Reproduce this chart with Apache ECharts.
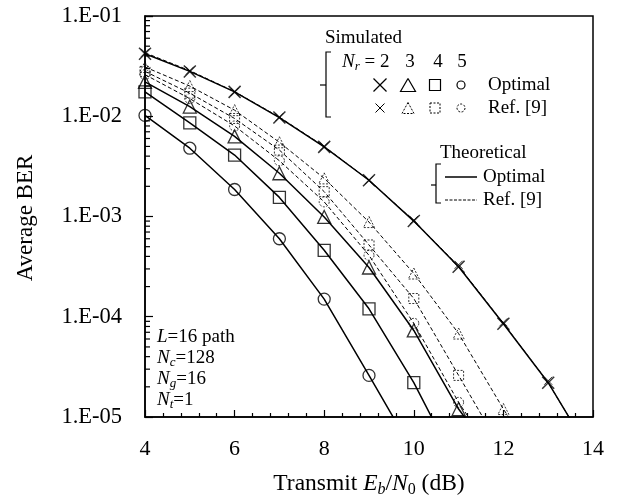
<!DOCTYPE html>
<html>
<head>
<meta charset="utf-8">
<script src="https://cdn.jsdelivr.net/npm/echarts@6/dist/echarts.min.js"></script>
<style>html,body{margin:0;padding:0;background:#fff;}#c{width:619px;height:499px;}</style>
</head>
<body>
<div id="c"></div>
<script>
// ---- data ----
const snr = [4, 5, 6, 7, 8, 9, 10, 11, 12, 13, 14];
const yTickLabels = ['1.E-05', '1.E-04', '1.E-03', '1.E-02', '1.E-01'];
// simulated, optimal
const simOptNr2 = [4.2e-2, 2.8e-2, 1.75e-2, 9.7e-3, 4.95e-3, 2.3e-3, 9.0e-4, 3.15e-4, 8.5e-5, 2.2e-5];
const simOptNr3 = [2.2e-2, 1.25e-2, 6.3e-3, 2.7e-3, 9.9e-4, 3.1e-4, 7.3e-5, 1.2e-5];
const simOptNr4 = [1.75e-2, 8.6e-3, 4.1e-3, 1.55e-3, 4.6e-4, 1.2e-4, 2.2e-5];
const simOptNr5 = [1.02e-2, 4.8e-3, 1.86e-3, 6.0e-4, 1.5e-4, 2.6e-5];
// simulated, Ref. [9]
const simRefNr2 = [4.3e-2, 2.85e-2, 1.75e-2, 9.8e-3, 5.0e-3, 2.3e-3, 9.2e-4, 3.3e-4, 8.8e-5, 2.3e-5];
const simRefNr3 = [3.1e-2, 2.0e-2, 1.15e-2, 5.5e-3, 2.4e-3, 8.8e-4, 2.7e-4, 6.8e-5, 1.2e-5];
const simRefNr4 = [2.8e-2, 1.7e-2, 9.5e-3, 4.6e-3, 1.77e-3, 5.2e-4, 1.52e-4, 2.6e-5];
const simRefNr5 = [2.6e-2, 1.5e-2, 8.0e-3, 3.6e-3, 1.4e-3, 4.1e-4, 8.6e-5, 1.4e-5];
// theoretical, optimal
const thOptNr2 = [4.2e-2, 2.8e-2, 1.75e-2, 9.7e-3, 4.95e-3, 2.3e-3, 9.0e-4, 3.15e-4, 8.5e-5, 2.2e-5, 4.0e-6];
const thOptNr3 = [2.2e-2, 1.25e-2, 6.3e-3, 2.7e-3, 9.9e-4, 3.1e-4, 7.3e-5, 1.2e-5, 3.0e-6];
const thOptNr4 = [1.75e-2, 8.6e-3, 4.1e-3, 1.55e-3, 4.6e-4, 1.2e-4, 2.2e-5, 3.0e-6];
const thOptNr5 = [1.02e-2, 4.8e-3, 1.86e-3, 6.0e-4, 1.5e-4, 2.6e-5, 4.4e-6];
// theoretical, Ref. [9]
const thRefNr2 = [4.3e-2, 2.85e-2, 1.76e-2, 9.8e-3, 5.0e-3, 2.3e-3, 9.1e-4, 3.2e-4, 8.6e-5, 2.2e-5, 4.0e-6];
const thRefNr3 = [3.1e-2, 2.0e-2, 1.15e-2, 5.5e-3, 2.4e-3, 8.8e-4, 2.7e-4, 6.8e-5, 1.2e-5, 2.5e-6];
const thRefNr4 = [2.8e-2, 1.7e-2, 9.5e-3, 4.6e-3, 1.77e-3, 5.2e-4, 1.52e-4, 2.6e-5, 4.4e-6];
const thRefNr5 = [2.6e-2, 1.5e-2, 8.0e-3, 3.6e-3, 1.4e-3, 4.1e-4, 8.6e-5, 1.4e-5, 3.0e-6];

// ---- chart ----
const FONT = 'Liberation Serif';
const xPath = 'path://M0,0L10,10M10,0L0,10';
const pairs = arr => arr.map((v, i) => [snr[i], v]);
const minorVals = [];
for (let e = -5; e < -1; e++) for (let m = 2; m <= 9; m++) minorVals.push(m * Math.pow(10, e));

function sim(arr, symbol, size, dashed, lw) {
  return {
    type: 'scatter', data: pairs(arr), symbol: symbol, symbolSize: size, z: 5,
    itemStyle: { color: 'rgba(0,0,0,0)', borderColor: '#000', borderWidth: lw, borderType: dashed ? [2, 1.5] : 'solid' },
    emphasis: { disabled: true }, silent: true
  };
}
function th(arr, dashed) {
  return {
    type: 'line', data: pairs(arr), showSymbol: false, symbol: 'none', smooth: false,
    lineStyle: { color: '#000', width: dashed ? 1 : 1.5, type: dashed ? [4, 2.5] : 'solid' }, z: 3,
    emphasis: { disabled: true }, silent: true
  };
}

const txt = (x, y, text, size, extra) => Object.assign({
  type: 'text', x: x, y: y,
  style: { text: text, fontFamily: FONT, fontSize: size, fill: '#000', align: 'left', verticalAlign: 'middle' }
}, extra || {});
function richTxt(x, y, text, size, align) {
  const sub = Math.round(size * 0.7);
  return {
    type: 'text', x: x, y: y,
    style: {
      text: text, fontFamily: FONT, fontSize: size, fill: '#000', align: align || 'left', verticalAlign: 'middle',
      rich: {
        n: { fontFamily: FONT, fontSize: size, lineHeight: size + 4, verticalAlign: 'middle' },
        i: { fontFamily: FONT, fontSize: size, fontStyle: 'italic', lineHeight: size + 4, verticalAlign: 'middle' },
        si: { fontFamily: FONT, fontSize: sub, fontStyle: 'italic', lineHeight: sub, verticalAlign: 'bottom' },
        s: { fontFamily: FONT, fontSize: sub, lineHeight: sub, verticalAlign: 'bottom' }
      }
    }
  };
}
const ln = (pts, lw, dash) => ({ type: 'polyline', shape: { points: pts }, style: { stroke: '#000', lineWidth: lw, fill: null, lineDash: dash || null } });
function gX(cx, cy, s, lw) { const h = s / 2; return [ln([[cx - h, cy - h], [cx + h, cy + h]], lw), ln([[cx - h, cy + h], [cx + h, cy - h]], lw)]; }
function gTri(cx, cy, w, hh, lw, dash) { return ln([[cx, cy - hh / 2], [cx + w / 2, cy + hh / 2], [cx - w / 2, cy + hh / 2], [cx, cy - hh / 2]], lw, dash); }
function gRect(cx, cy, s, lw, dash) { return { type: 'rect', shape: { x: cx - s / 2, y: cy - s / 2, width: s, height: s }, style: { stroke: '#000', lineWidth: lw, fill: null, lineDash: dash || null } }; }
function gCirc(cx, cy, r, lw, dash) { return { type: 'circle', shape: { cx: cx, cy: cy, r: r }, style: { stroke: '#000', lineWidth: lw, fill: null, lineDash: dash || null } }; }

const D = [2, 1.5];
const graphics = [].concat(
  [txt(325, 38, 'Simulated', 19)],
  [ln([[331, 52], [326, 52], [326, 117], [331, 117]], 1.2), ln([[326, 85], [320, 85]], 1.2)],
  [richTxt(342, 62, '{i|N}{si|r}{n| = 2}', 19)],
  [txt(410, 62, '3', 19, {}), txt(438, 62, '4', 19), txt(462, 62, '5', 19)].map(t => { t.style.align = 'center'; return t; }),
  gX(380, 85, 13, 1.3), [gTri(408, 85, 15, 13, 1.2), gRect(435, 85, 11, 1.2), gCirc(461, 85, 4, 1.2)],
  gX(380, 108, 9, 1), [gTri(408, 108, 12, 11, 1, D), gRect(435, 108, 10, 1, D), gCirc(461, 108, 4, 1, D)],
  [txt(488, 85, 'Optimal', 19), txt(488, 108, 'Ref. [9]', 19)],
  [txt(440, 153, 'Theoretical', 19)],
  [ln([[441, 164], [436, 164], [436, 203], [441, 203]], 1.2), ln([[436, 185], [431, 185]], 1.2)],
  [ln([[445, 177], [477, 177]], 1.5), ln([[445, 200], [477, 200]], 1, [3, 1.5])],
  [txt(483, 177, 'Optimal', 19), txt(483, 200, 'Ref. [9]', 19)],
  [richTxt(157, 337, '{i|L}{n|=16 path}', 19), richTxt(157, 358, '{i|N}{si|c}{n|=128}', 19),
   richTxt(157, 379, '{i|N}{si|g}{n|=16}', 19), richTxt(157, 400, '{i|N}{si|t}{n|=1}', 19)],
  [richTxt(369, 484, '{n|Transmit }{i|E}{si|b}{n|/}{i|N}{s|0}{n| (dB)}', 23.5, 'center')],
  [txt(26, 218, 'Average BER', 23, { rotation: Math.PI / 2 })].map(t => { t.style.align = 'center'; return t; })
);

const chart = echarts.init(document.getElementById('c'), null, { renderer: 'canvas' });
chart.setOption({
  animation: false,
  backgroundColor: '#fff',
  grid: { left: 145, right: 26, top: 16, bottom: 82, show: true, borderColor: '#000', borderWidth: 1.5, backgroundColor: 'transparent' },
  xAxis: {
    type: 'value', min: 4, max: 14, interval: 2,
    axisLine: { show: true, onZero: false, lineStyle: { color: '#000', width: 1.5 } },
    axisTick: { show: true, inside: true, length: 7, lineStyle: { color: '#000', width: 1.2 } },
    minorTick: { show: true, splitNumber: 5, length: 4, lineStyle: { color: '#000', width: 1.2 } },
    splitLine: { show: false },
    axisLabel: { fontFamily: FONT, fontSize: 22, color: '#000', margin: 21 }
  },
  yAxis: {
    type: 'log', logBase: 10, min: 1e-5, max: 1e-1,
    axisLine: { show: true, lineStyle: { color: '#000', width: 1.5 } },
    axisTick: { show: true, inside: true, length: 8, lineStyle: { color: '#000', width: 1.2 } },
    splitLine: { show: false },
    axisLabel: { fontFamily: FONT, fontSize: 22.5, color: '#000', margin: 23, formatter: (v, i) => yTickLabels[i] }
  },
  graphic: graphics,
  series: [
    {
      type: 'custom', data: minorVals.map(v => [4, v]), z: 4, silent: true, clip: false,
      renderItem: (params, api) => {
        const p = api.coord([api.value(0), api.value(1)]);
        return { type: 'line', shape: { x1: p[0], y1: p[1], x2: p[0] + 5, y2: p[1] }, style: { stroke: '#000', lineWidth: 1.2 } };
      }
    },
    th(thOptNr2, false), th(thOptNr3, false), th(thOptNr4, false), th(thOptNr5, false),
    th(thRefNr2, true), th(thRefNr3, true), th(thRefNr4, true), th(thRefNr5, true),
    sim(simOptNr2, xPath, 12, false, 1.5), sim(simOptNr3, 'triangle', 13, false, 1.3),
    sim(simOptNr4, 'rect', 12, false, 1.3), sim(simOptNr5, 'circle', 12, false, 1.3),
    sim(simRefNr2, xPath, 8, false, 1), sim(simRefNr3, 'triangle', 11, true, 1),
    sim(simRefNr4, 'rect', 10, true, 1), sim(simRefNr5, 'circle', 10, true, 1)
  ]
});
</script>
</body>
</html>
